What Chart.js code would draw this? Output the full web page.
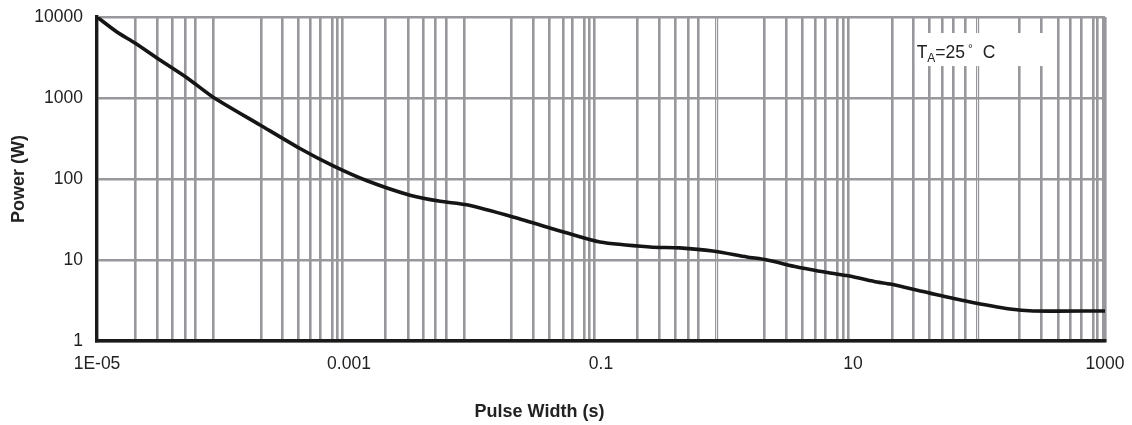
<!DOCTYPE html>
<html>
<head>
<meta charset="utf-8">
<script src="https://cdn.jsdelivr.net/npm/chart.js@4.4.1/dist/chart.umd.min.js"></script>
<style>
  html, body { margin: 0; padding: 0; background: #fff; }
  #wrap { width: 1132px; height: 425px; position: relative; }
</style>
</head>
<body>
<div id="wrap"><canvas id="powerChart"></canvas></div>
<script>
// --- data ---
const pulseWidth = [1e-5, 1.44e-5, 2e-5, 3.16e-5, 5.2e-5, 8.3e-5, 1.97e-4, 4.08e-4, 7.5e-4, 1.39e-3,
    3.05e-3, 5.3e-3, 8.6e-3, 0.02, 0.054, 0.098, 0.245, 0.42, 0.77, 1.44,
    2.08, 3.6, 6.6, 10, 15.5, 19.7, 40.8, 80, 176, 269, 1000];
const power = [10000, 6530, 4780, 2950, 1770, 1030, 464, 238, 145, 95,
    63, 53, 48, 34, 21.5, 16.7, 14.5, 14.1, 12.9, 10.9,
    10, 8.2, 6.9, 6.2, 5.35, 5.05, 3.9, 3.1, 2.48, 2.35, 2.35];

// axis ticks
const xTickValues = [1e-5, 1e-3, 0.1, 10, 1000];
const xTickLabels = ['1E-05', '0.001', '0.1', '10', '1000'];
const yTickValues = [1, 10, 100, 1000, 10000];
const yTickLabels = ['1', '10', '100', '1000', '10000'];

// the vertical grid of the original is not a clean log grid
const xGridValues = [
    2e-5, 3e-5, 3.94e-5, 5e-5, 6e-5, 8.33e-5,
    2e-4, 2.94e-4, 3.94e-4, 4.91e-4, 5.89e-4, 7.33e-4, 8.05e-4, 8.81e-4,
    1.93e-3, 2.94e-3, 3.87e-3, 4.81e-3, 5.89e-3, 8.17e-3,
    1.93e-2, 2.89e-2, 3.87e-2, 4.99e-2, 5.89e-2, 7.33e-2, 8.05e-2, 8.81e-2,
    0.193, 0.289, 0.387, 0.491, 0.589,
    1.97, 2.94, 3.94, 4.99, 5.99, 7.46, 8.33, 9.13,
    20.4, 29.9, 40.1, 50.9, 62.2, 77.6,
    208, 310, 424, 527, 643, 810, 870, 970
];
const xThinGridValues = [0.81, 0.84, 96.5, 100];

const xTitle = 'Pulse Width (s)';
const yTitle = 'Power (W)';

// TA=25 C note, in data units
const noteBox = { x0: 31, x1: 366, y0: 2480, y1: 6340 };
const noteAnchor = { x: 32, y: 3550 };

const FONT = "'Liberation Sans', Arial, Helvetica, sans-serif";
const GRID = '#98989c';
const AXIS = '#1a1a1a';

const notePlugin = {
    id: 'note',
    beforeDatasetsDraw(chart) {
        const { ctx, scales: { x, y } } = chart;
        const bx0 = x.getPixelForValue(noteBox.x0), bx1 = x.getPixelForValue(noteBox.x1);
        const by0 = y.getPixelForValue(noteBox.y1), by1 = y.getPixelForValue(noteBox.y0);
        ctx.save();
        ctx.fillStyle = '#fff';
        ctx.fillRect(bx0, by0, bx1 - bx0, by1 - by0);

        let tx = x.getPixelForValue(noteAnchor.x);
        const ty = y.getPixelForValue(noteAnchor.y);
        ctx.fillStyle = '#222';
        ctx.textBaseline = 'middle';
        ctx.textAlign = 'left';
        ctx.font = '17.5px ' + FONT;
        ctx.fillText('T', tx, ty);
        tx += ctx.measureText('T').width;
        ctx.font = '12px ' + FONT;
        ctx.fillText('A', tx, ty + 5);
        tx += ctx.measureText('A').width;
        ctx.font = '17.5px ' + FONT;
        ctx.fillText('=25', tx, ty);
        tx += ctx.measureText('=25').width + 3;
        ctx.font = '12px ' + FONT;
        ctx.fillText('\u00b0', tx, ty - 4);
        tx += ctx.measureText('\u00b0').width + 10;
        ctx.font = '17.5px ' + FONT;
        ctx.fillText('C', tx, ty);
        ctx.restore();
    }
};

// x title sits left of centre in the original
const xTitlePlugin = {
    id: 'xTitle',
    afterDraw(chart) {
        const { ctx, chartArea } = chart;
        ctx.save();
        ctx.font = 'bold 18px ' + FONT;
        ctx.fillStyle = '#222';
        ctx.textAlign = 'center';
        ctx.textBaseline = 'middle';
        ctx.fillText(xTitle, chartArea.left + (chartArea.right - chartArea.left) * 0.439, chart.height - 13);
        ctx.restore();
    }
};

Chart.defaults.font.family = FONT;
Chart.defaults.color = '#222';

const ctx = document.getElementById('powerChart').getContext('2d');
const powerChart = new Chart(ctx, {
    type: 'line',
    data: {
        datasets: [{
            data: pulseWidth.map((v, i) => ({ x: v, y: power[i] })),
            borderColor: '#151515',
            borderWidth: 3.6,
            pointRadius: 0,
            tension: 0.25,
            fill: false
        }]
    },
    options: {
        responsive: true,
        maintainAspectRatio: false,
        animation: false,
        devicePixelRatio: 1,
        layout: { padding: { top: 17, right: 27, left: 0, bottom: 0 } },
        plugins: { legend: { display: false }, tooltip: { enabled: false } },
        scales: {
            x: {
                type: 'logarithmic',
                min: 1e-5,
                max: 1000,
                afterBuildTicks(scale) {
                    const vals = xTickValues.concat(xGridValues, xThinGridValues).sort((a, b) => a - b);
                    scale.ticks = vals.map(v => ({ value: v }));
                },
                afterFit(scale) {
                    scale.height = 84;
                    // labels may hang over the ends, keep the plot box fixed
                    scale.paddingLeft = 0;
                    scale.paddingRight = 0;
                },
                ticks: {
                    autoSkip: false,
                    maxRotation: 0,
                    padding: 13,
                    font: { size: 17.5 },
                    callback(value) {
                        const i = xTickValues.indexOf(value);
                        return i >= 0 ? xTickLabels[i] : '';
                    }
                },
                grid: {
                    drawTicks: false,
                    color(c) {
                        const v = c.tick && c.tick.value;
                        if (v === 1000) return GRID;
                        return xTickValues.indexOf(v) >= 0 ? 'rgba(0,0,0,0)' : GRID;
                    },
                    lineWidth(c) {
                        const v = c.tick && c.tick.value;
                        return xThinGridValues.indexOf(v) >= 0 ? 1.2 : 2.6;
                    }
                },
                border: { display: true, color: AXIS, width: 3.4 },
                title: { display: false }
            },
            y: {
                type: 'logarithmic',
                min: 1,
                max: 10000,
                afterBuildTicks(scale) {
                    scale.ticks = yTickValues.map(v => ({ value: v }));
                },
                afterFit(scale) {
                    scale.width = 97;
                    scale.paddingTop = 0;
                    scale.paddingBottom = 0;
                },
                ticks: {
                    autoSkip: false,
                    padding: 14,
                    font: { size: 17.5 },
                    callback(value) {
                        const i = yTickValues.indexOf(value);
                        return i >= 0 ? yTickLabels[i] : '';
                    }
                },
                grid: { drawTicks: false, color: GRID, lineWidth: 2.6 },
                border: { display: true, color: AXIS, width: 3.4 },
                title: {
                    display: true,
                    text: yTitle,
                    font: { size: 18, weight: 'bold' },
                    color: '#222',
                    padding: { top: 8, bottom: 0 }
                }
            }
        }
    },
    plugins: [notePlugin, xTitlePlugin]
});
</script>
</body>
</html>
